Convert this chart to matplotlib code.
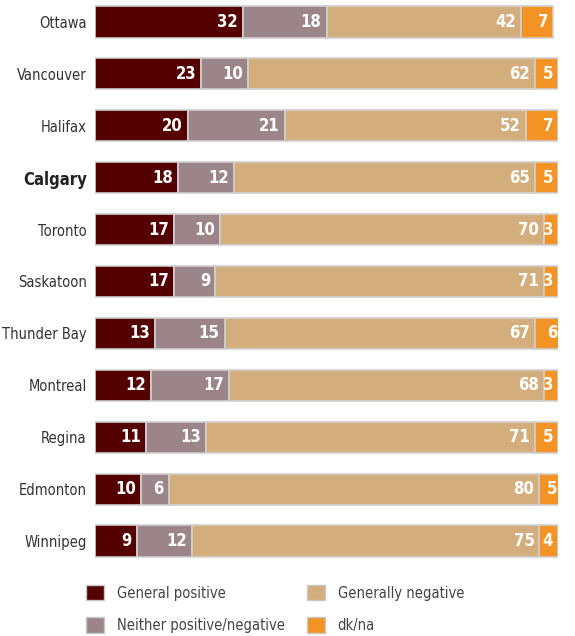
import matplotlib
matplotlib.use("Agg")
import matplotlib.pyplot as plt
from matplotlib.patches import Patch

plt.rcParams['font.family'] = ['DejaVu Sans']
plt.rcParams['font.stretch'] = 'condensed'

# data
cities = ['Ottawa', 'Vancouver', 'Halifax', 'Calgary', 'Toronto', 'Saskatoon',
          'Thunder Bay', 'Montreal', 'Regina', 'Edmonton', 'Winnipeg']
positive = [32, 23, 20, 18, 17, 17, 13, 12, 11, 10, 9]
neither = [18, 10, 21, 12, 10, 9, 15, 17, 13, 6, 12]
negative = [42, 62, 52, 65, 70, 71, 67, 68, 71, 80, 75]
dkna = [7, 5, 7, 5, 3, 3, 6, 3, 5, 5, 4]

series_names = ['General positive', 'Neither positive/negative',
                'Generally negative', 'dk/na']
colors = ['#550000', '#9b8589', '#d3ae7c', '#f39325']

fig = plt.figure(figsize=(5.75, 6.36), dpi=100)
ax = fig.add_axes([95 / 575, 1 - 561.8 / 636, 463 / 575, 560.6 / 636])

y = list(range(len(cities)))
left = [0] * len(cities)
for vals, col in zip([positive, neither, negative, dkna], colors):
    ax.barh(y, vals, left=left, height=0.6, color=col,
            edgecolor='#d0d0d0', linewidth=1.2)
    for i, v in enumerate(vals):
        ax.text(left[i] + v - 1.1, i, str(v), ha='right', va='center',
                color='white', fontsize=12, fontweight='bold')
    left = [l + v for l, v in zip(left, vals)]

ax.set_xlim(0, 100)
ax.set_ylim(10.4, -0.4)
ax.set_yticks(y)
ax.set_yticklabels(cities, fontsize=10.5, color='#333333')
for lab in ax.get_yticklabels():
    if lab.get_text() == 'Calgary':
        lab.set_fontweight('bold')
        lab.set_fontsize(12)
        lab.set_color('#222222')
ax.tick_params(axis='y', length=0, pad=6)
ax.set_xticks([])
for s in ax.spines.values():
    s.set_visible(False)

handles = [Patch(facecolor=c, edgecolor='#c8c8c8', label=n)
           for c, n in zip(colors, series_names)]
leg_kw = dict(loc='center left', frameon=False, fontsize=10.5,
              handlelength=1.25, handleheight=1.25, handletextpad=0.85,
              labelspacing=1.15, labelcolor='#444444', borderpad=0,
              borderaxespad=0)
fig.legend(handles=handles[:2], bbox_to_anchor=(86 / 575, 1 - 609 / 636),
           **leg_kw)
fig.legend(handles=handles[2:], bbox_to_anchor=(307 / 575, 1 - 609 / 636),
           **leg_kw)

fig.savefig('out.png', dpi=100)
